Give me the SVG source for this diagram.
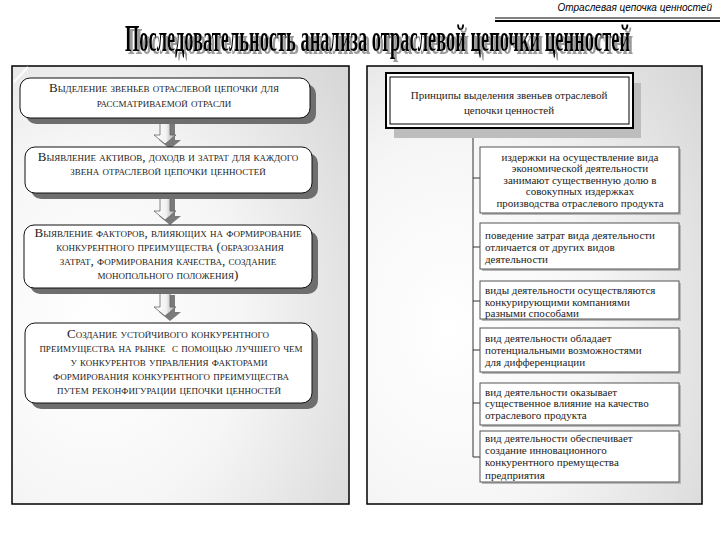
<svg xmlns="http://www.w3.org/2000/svg" width="720" height="540" viewBox="0 0 720 540">
<defs>
<radialGradient id="pg" cx="0.25" cy="0.6" r="0.95">
<stop offset="0" stop-color="#ffffff"/>
<stop offset="0.45" stop-color="#f6f6f6"/>
<stop offset="1" stop-color="#d6d6d6"/>
</radialGradient>
<linearGradient id="ag" x1="0" y1="0" x2="1" y2="0">
<stop offset="0" stop-color="#ffffff"/>
<stop offset="0.55" stop-color="#f2f2f2"/>
<stop offset="1" stop-color="#9a9a9a"/>
</linearGradient>
<filter id="tsh" x="-10%" y="-30%" width="120%" height="160%">
<feOffset in="SourceAlpha" dx="6" dy="3" result="o"/>
<feFlood flood-color="#9a9a9a"/>
<feComposite in2="o" operator="in" result="s"/>
<feMerge><feMergeNode in="s"/><feMergeNode in="SourceGraphic"/></feMerge>
</filter>
<path id="arr" d="M-5,0 H5 V17 H11 L0,26 L-11,17 H-5 Z"/>
</defs>
<style>
.panel{fill:url(#pg);stroke:#000;stroke-width:1.5}
.lb{fill:#fff;stroke:#111;stroke-width:1}
.lsh{fill:#6e6e6e}
.lt{font-family:"Liberation Serif","DejaVu Serif",serif;font-size:13px;font-variant:small-caps;fill:#222;text-anchor:middle}
.rt{font-family:"Liberation Serif","DejaVu Serif",serif;font-size:11px;fill:#222}
.rb{fill:#fff;stroke:#555;stroke-width:1}
.rsh{fill:#b8b8b8}
.conn{fill:none;stroke:#333;stroke-width:1}
.ash{fill:#7a7a7a}
.arw{fill:url(#ag);stroke:#666;stroke-width:0.8}
</style>
<rect width="720" height="540" fill="#fff"/>
<!-- header -->
<text x="712" y="11" font-family="Liberation Sans,Arial,sans-serif" font-size="10" font-style="italic" text-anchor="end" fill="#000">Отраслевая цепочка ценностей</text>
<line x1="495" y1="18" x2="720" y2="18" stroke="#000" stroke-width="1"/>
<line x1="495" y1="21" x2="720" y2="21" stroke="#000" stroke-width="2"/>
<!-- title -->
<g transform="translate(125,51) scale(0.5,1)">
<text x="0" y="0" font-family="Liberation Serif,DejaVu Serif,serif" font-weight="bold" font-size="38" fill="#000" filter="url(#tsh)" textLength="1010" lengthAdjust="spacingAndGlyphs">Последовательность анализа отраслевой цепочки ценностей</text>
</g>
<!-- panels -->
<rect class="panel" x="12" y="66" width="337" height="438"/>
<rect class="panel" x="367" y="66" width="335" height="438"/>
<line x1="14" y1="82" x2="28" y2="67" stroke="#fff" stroke-width="2" opacity="0.9"/>
<!-- connectors -->
<g id="connectors">
<use href="#arr" x="170" y="123" class="ash"/>
<use href="#arr" x="165" y="118" class="arw"/>
<use href="#arr" x="170" y="199" class="ash"/>
<use href="#arr" x="165" y="194" class="arw"/>
<use href="#arr" x="170" y="295" class="ash"/>
<use href="#arr" x="165" y="290" class="arw"/>
<path class="conn" d="M509,128 V137 H473 V457 H480 M473,178 H480 M473,247 H480 M473,301 H480 M473,350 H480 M473,403 H480"/>
</g>
<!-- left nodes -->
<g id="step1">
<rect class="lsh" x="26" y="84" width="290" height="40" rx="10"/>
<rect class="lb" x="20" y="78" width="290" height="40" rx="10"/>
<text class="lt" x="164" y="92">Выделение звеньев отраслевой цепочки для</text>
<text class="lt" x="164" y="107">рассматриваемой отрасли</text>
</g>
<g id="step2">
<rect class="lsh" x="31" y="153" width="287" height="46" rx="10"/>
<rect class="lb" x="25" y="147" width="287" height="46" rx="10"/>
<text class="lt" x="168" y="161">Выявление активов, доходв и затрат для каждого</text>
<text class="lt" x="168" y="175">звена отраслевой цепочки ценностей</text>
</g>
<g id="step3">
<rect class="lsh" x="30" y="231" width="288" height="63" rx="10"/>
<rect class="lb" x="24" y="225" width="288" height="63" rx="10"/>
<text class="lt" x="168" y="237">Выявление факторов, влияющих на формирование</text>
<text class="lt" x="170" y="251">конкурентного преимущества (образозания</text>
<text class="lt" x="168" y="265">затрат, формирования качества, создание</text>
<text class="lt" x="168" y="279">монопольного положения)</text>
</g>
<g id="step4">
<rect class="lsh" x="31" y="329" width="287" height="80" rx="10"/>
<rect class="lb" x="25" y="323" width="287" height="80" rx="10"/>
<text class="lt" x="168" y="338">Создание устойчивого конкурентного</text>
<text class="lt" x="171" y="352" xml:space="preserve">преимущества на рынке  с помощью лучшего чем</text>
<text class="lt" x="169" y="366">у конкурентов управления факторами</text>
<text class="lt" x="171" y="380">формирования конкурентного преимущества</text>
<text class="lt" x="169" y="394">путем реконфигурации цепочки ценностей</text>
</g>
<!-- right nodes -->
<g id="principles">
<rect x="394" y="83" width="247" height="55" fill="#bdbdbd"/>
<rect x="386" y="73" width="247" height="55" fill="#fff" stroke="#000" stroke-width="2"/>
<rect x="390" y="77" width="239" height="47" fill="none" stroke="#000" stroke-width="1"/>
<text class="rt" x="509" y="99" font-size="12" text-anchor="middle">Принципы выделения звеньев отраслевой</text>
<text class="rt" x="509" y="114" font-size="12" text-anchor="middle">цепочки ценностей</text>
</g>
<g id="p1">
<rect class="rsh" x="482" y="149" width="199" height="66"/>
<rect class="rb" x="480" y="147" width="199" height="66"/>
<text class="rt" x="580" y="161" text-anchor="middle">издержки на осуществление вида</text>
<text class="rt" x="580" y="172" text-anchor="middle">экономической деятельности</text>
<text class="rt" x="580" y="184" text-anchor="middle">занимают существенную долю в</text>
<text class="rt" x="580" y="195" text-anchor="middle">совокупных издержках</text>
<text class="rt" x="580" y="207" text-anchor="middle">производства отраслевого продукта</text>
</g>
<g id="p2">
<rect class="rsh" x="482" y="225" width="199" height="46"/>
<rect class="rb" x="480" y="223" width="199" height="46"/>
<text class="rt" x="485" y="239">поведение затрат вида деятельности</text>
<text class="rt" x="485" y="251">отличается от других видов</text>
<text class="rt" x="485" y="263">деятельности</text>
</g>
<g id="p3">
<rect class="rsh" x="482" y="283" width="199" height="38"/>
<rect class="rb" x="480" y="281" width="199" height="38"/>
<text class="rt" x="485" y="294">виды деятельности осуществляются</text>
<text class="rt" x="485" y="306">конкурирующими компаниями</text>
<text class="rt" x="485" y="317">разными способами</text>
</g>
<g id="p4">
<rect class="rsh" x="482" y="330" width="199" height="44"/>
<rect class="rb" x="480" y="328" width="199" height="44"/>
<text class="rt" x="485" y="342">вид деятельности обладает</text>
<text class="rt" x="485" y="354">потенциальными возможностями</text>
<text class="rt" x="485" y="366">для дифференциации</text>
</g>
<g id="p5">
<rect class="rsh" x="482" y="385" width="199" height="42"/>
<rect class="rb" x="480" y="383" width="199" height="42"/>
<text class="rt" x="485" y="396">вид деятельности оказывает</text>
<text class="rt" x="485" y="407">существенное влияние на качество</text>
<text class="rt" x="485" y="419">отраслевого продукта</text>
</g>
<g id="p6">
<rect class="rsh" x="482" y="433" width="199" height="51"/>
<rect class="rb" x="480" y="431" width="199" height="51"/>
<text class="rt" x="485" y="442">вид деятельности обеспечивает</text>
<text class="rt" x="485" y="454">создание инновационного</text>
<text class="rt" x="485" y="466">конкурентного премущества</text>
<text class="rt" x="485" y="479">предприятия</text>
</g>
</svg>
